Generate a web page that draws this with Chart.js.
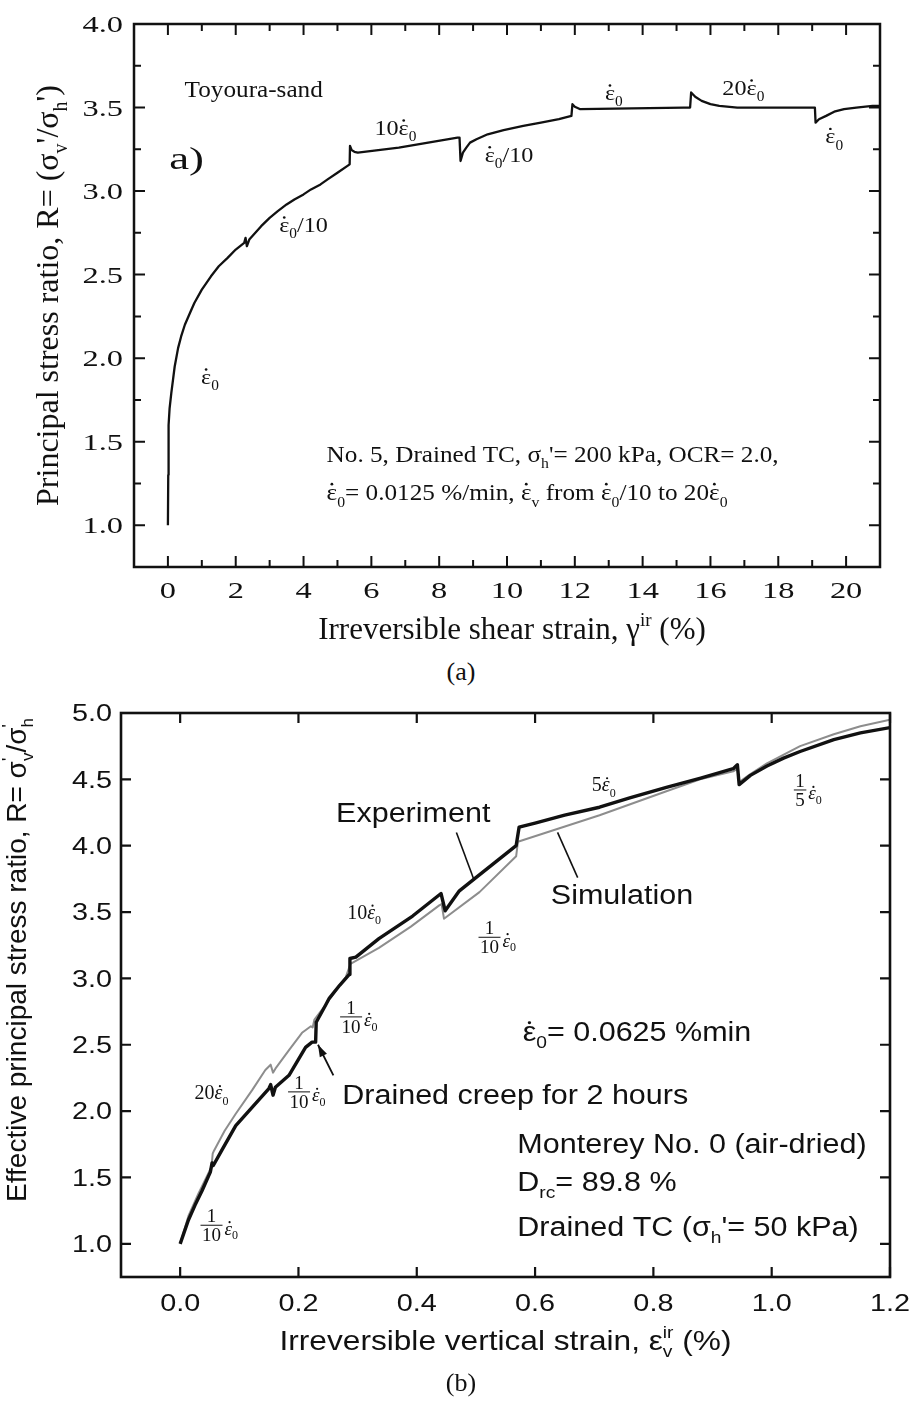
<!DOCTYPE html>
<html>
<head>
<meta charset="utf-8">
<script src="https://cdn.jsdelivr.net/npm/chart.js@4.4.0/dist/chart.umd.min.js"></script>
<style>
  body { margin: 0; background: #fff; }
  #page { position: relative; width: 912px; height: 1406px; }
  canvas { position: absolute; left: 0; }
  .cap { position: absolute; left: 0; width: 922px; text-align: center; font: 26px "Liberation Serif", serif; color: #111; line-height: 30px; }
</style>
</head>
<body>
<div id="page">
  <canvas id="chartA" width="912" height="650" style="top:0"></canvas>
  <div class="cap" style="top:657px">(a)</div>
  <canvas id="chartB" width="912" height="690" style="top:690px"></canvas>
  <div class="cap" style="top:1368px">(b)</div>
</div>
<script>
// (a) Toyoura sand, drained TC with step changes of strain rate
const strainA = [0, 0.01, 0.02, 0.05, 0.1, 0.15, 0.2, 0.3, 0.39, 0.5, 0.65, 0.78, 1.0, 1.27, 1.5,
  1.76, 2.0, 2.25, 2.29, 2.33, 2.4, 2.75, 3.0, 3.24, 3.5, 3.73, 4.0, 4.22, 4.5, 4.71,
  5.0, 5.36, 5.37, 5.42, 5.5, 5.6, 6.81, 8.54, 8.6, 8.63, 8.7, 8.8, 8.91, 9.1, 9.43,
  9.9, 10.48, 11.0, 11.53, 11.9, 11.93, 12.0, 12.16, 15.21, 15.4, 15.43, 15.55, 15.74, 16.0, 16.26,
  16.79, 19.04, 19.08, 19.1, 19.2, 19.41, 19.65, 19.94, 20.3, 20.78, 21];
const ratioA = [1.0, 1.3, 1.6, 1.70, 1.79, 1.87, 1.95, 2.06, 2.13, 2.20, 2.27, 2.33, 2.41, 2.49, 2.55,
  2.60, 2.65, 2.69, 2.72, 2.67, 2.71, 2.79, 2.84, 2.88, 2.92, 2.95, 2.98, 3.01, 3.04, 3.07,
  3.11, 3.16, 3.27, 3.245, 3.235, 3.23, 3.26, 3.32, 3.32, 3.18, 3.23, 3.26, 3.29, 3.31, 3.34,
  3.365, 3.39, 3.41, 3.43, 3.45, 3.52, 3.505, 3.49, 3.50, 3.50, 3.59, 3.565, 3.54, 3.52, 3.51,
  3.50, 3.50, 3.50, 3.41, 3.43, 3.45, 3.475, 3.49, 3.50, 3.51, 3.51];

// (b) Monterey No. 0 sand, experiment vs simulation
const strainExp = [0, 0.007, 0.014, 0.025, 0.037, 0.051, 0.054, 0.056, 0.071, 0.094, 0.122, 0.150, 0.153, 0.157, 0.161,
  0.184, 0.2, 0.212, 0.223, 0.229, 0.230, 0.246, 0.252, 0.27, 0.286, 0.287, 0.297, 0.336, 0.393, 0.441,
  0.448, 0.472, 0.500, 0.534, 0.568, 0.573, 0.60, 0.65, 0.709, 0.76, 0.822, 0.88, 0.935, 0.942, 0.945,
  0.964, 0.992, 1.02, 1.048, 1.105, 1.15, 1.2];
const ratioExp = [1.0, 1.09, 1.18, 1.29, 1.40, 1.54, 1.61, 1.59, 1.71, 1.89, 2.03, 2.17, 2.20, 2.12, 2.18,
  2.27, 2.39, 2.48, 2.52, 2.52, 2.67, 2.80, 2.85, 2.95, 3.03, 3.15, 3.16, 3.30, 3.47, 3.64,
  3.51, 3.66, 3.76, 3.88, 4.00, 4.14, 4.17, 4.23, 4.29, 4.36, 4.44, 4.51, 4.58, 4.61, 4.46,
  4.53, 4.60, 4.66, 4.71, 4.80, 4.85, 4.89];
const strainSim = [0, 0.014, 0.031, 0.053, 0.055, 0.057, 0.075, 0.094, 0.122, 0.144, 0.153, 0.157, 0.161, 0.184, 0.206,
  0.221, 0.224, 0.227, 0.246, 0.252, 0.280, 0.288, 0.336, 0.39, 0.438, 0.442, 0.446, 0.506, 0.568, 0.571,
  0.64, 0.709, 0.822, 0.879, 0.935, 0.942, 0.945, 0.964, 0.992, 1.048, 1.105, 1.15, 1.2];
const ratioSim = [1.0, 1.21, 1.38, 1.58, 1.68, 1.70, 1.85, 1.98, 2.16, 2.31, 2.35, 2.29, 2.32, 2.46, 2.59,
  2.64, 2.63, 2.69, 2.80, 2.84, 3.01, 3.11, 3.23, 3.39, 3.55, 3.56, 3.45, 3.65, 3.92, 4.03,
  4.13, 4.23, 4.41, 4.50, 4.56, 4.58, 4.48, 4.54, 4.62, 4.75, 4.84, 4.90, 4.95];

// ticks
const xTicksA = [0, 2, 4, 6, 8, 10, 12, 14, 16, 18, 20];
const xLabelsA = ['0', '2', '4', '6', '8', '10', '12', '14', '16', '18', '20'];
const xMinorA = [1, 3, 5, 7, 9, 11, 13, 15, 17, 19];
const yTicksA = [1.0, 1.5, 2.0, 2.5, 3.0, 3.5, 4.0];
const yLabelsA = ['1.0', '1.5', '2.0', '2.5', '3.0', '3.5', '4.0'];
const yMinorA = [1.25, 1.75, 2.25, 2.75, 3.25, 3.75];

const xTicksB = [0, 0.2, 0.4, 0.6, 0.8, 1.0, 1.2];
const xLabelsB = ['0.0', '0.2', '0.4', '0.6', '0.8', '1.0', '1.2'];
const yTicksB = [1.0, 1.5, 2.0, 2.5, 3.0, 3.5, 4.0, 4.5, 5.0];
const yLabelsB = ['1.0', '1.5', '2.0', '2.5', '3.0', '3.5', '4.0', '4.5', '5.0'];

const DOT = '\u0307';
const EPS = 'ε' + DOT;   // epsilon with dot (strain rate)
const SERIF = '"Liberation Serif"';
const SANS = '"Liberation Sans"';
const INK = '#111';

// "_{..}" subscript, "^{..}" superscript, "~{..}" italic
function parseRich(str) {
  const segs = [];
  let buf = '';
  for (let i = 0; i < str.length; i++) {
    const c = str[i];
    if ((c === '_' || c === '^' || c === '~') && str[i + 1] === '{') {
      if (buf) segs.push({ t: buf, k: '' });
      buf = '';
      const end = str.indexOf('}', i);
      segs.push({ t: str.slice(i + 2, end), k: c });
      i = end;
    } else {
      buf += c;
    }
  }
  if (buf) segs.push({ t: buf, k: '' });
  return segs;
}

function richText(ctx, str, x, y, o) {
  const size = o.size;
  const sx = o.sx || 1;
  const segs = parseRich(str);
  const small = s => s.k === '_' || s.k === '^';
  const italic = s => s.k === '~' || o.italic;
  const fontFor = s => (italic(s) ? 'italic ' : '') +
    Math.round(small(s) ? size * 0.62 : size) + 'px ' + o.family;
  let w = 0, prev = null;
  segs.forEach(s => {
    // the combining dot is drawn by hand above its letter
    s.plain = s.t.split(DOT).join('');
    ctx.font = fontFor(s);
    s.w = ctx.measureText(s.plain).width;
    if (prev && small(prev) && small(s) && prev.k !== s.k) {
      s.x = prev.x;
      w = prev.x + Math.max(prev.w, s.w);
    } else {
      s.x = w;
      w += s.w;
    }
    prev = s;
  });
  ctx.save();
  ctx.translate(x, y);
  if (o.rot) ctx.rotate(o.rot);
  ctx.scale(sx, 1);
  const x0 = o.align === 'left' ? 0 : o.align === 'right' ? -w : -w / 2;
  const base = size * 0.34;
  ctx.fillStyle = INK;
  ctx.textAlign = 'left';
  ctx.textBaseline = 'alphabetic';
  segs.forEach(s => {
    ctx.font = fontFor(s);
    const dy = s.k === '_' ? size * (o.sub || 0.28) : s.k === '^' ? -size * 0.42 : 0;
    ctx.fillText(s.plain, x0 + s.x, base + dy);
    let n = 0;
    for (let i = 0; i < s.t.length; i++) {
      if (s.t[i] !== DOT) continue;
      const before = s.t.slice(0, i).split(DOT).join('');
      const ch = before[before.length - 1];
      const cx = x0 + s.x + ctx.measureText(before).width - ctx.measureText(ch).width / 2 +
        (italic(s) ? size * 0.07 : 0);
      ctx.beginPath();
      ctx.arc(cx, base + dy - size * 0.66, Math.max(1.1, size * 0.055), 0, Math.PI * 2);
      ctx.fill();
      n++;
    }
  });
  ctx.restore();
  return w * sx;
}

// stacked fraction followed by the rate symbol, e.g. 1/10 ε0
function fracRate(ctx, num, den, cx, yBar, size) {
  ctx.save();
  ctx.font = size + 'px ' + SERIF;
  ctx.fillStyle = INK;
  ctx.textAlign = 'center';
  ctx.textBaseline = 'alphabetic';
  const w = Math.max(ctx.measureText(num).width, ctx.measureText(den).width) + 3;
  ctx.fillText(num, cx, yBar - 3);
  ctx.fillText(den, cx, yBar + 3 + size * 0.68);
  ctx.strokeStyle = INK;
  ctx.lineWidth = 1;
  ctx.beginPath();
  ctx.moveTo(cx - w / 2, yBar);
  ctx.lineTo(cx + w / 2, yBar);
  ctx.stroke();
  ctx.restore();
  richText(ctx, '~{' + EPS + '}_{0}', cx + w / 2 + 2, yBar + 3, { size, family: SERIF, align: 'left', sub: 0.22 });
}

function line(ctx, p, q, lw) {
  ctx.save();
  ctx.strokeStyle = INK;
  ctx.lineWidth = lw;
  ctx.beginPath();
  ctx.moveTo(p[0], p[1]);
  ctx.lineTo(q[0], q[1]);
  ctx.stroke();
  ctx.restore();
}

// frame, inward ticks on all four sides, tick labels, titles and notes
function axesPlugin(cfg) {
  return {
    id: 'axesPlugin',
    afterDatasetsDraw(chart) {
      const { ctx, chartArea: a, scales: { x, y } } = chart;
      const P = (xv, yv) => [x.getPixelForValue(xv), y.getPixelForValue(yv)];
      ctx.save();
      ctx.strokeStyle = INK;
      ctx.lineWidth = cfg.tickWidth;
      ctx.beginPath();
      const xt = (vals, len) => vals.forEach(v => {
        const px = x.getPixelForValue(v);
        ctx.moveTo(px, a.bottom); ctx.lineTo(px, a.bottom - len);
        ctx.moveTo(px, a.top); ctx.lineTo(px, a.top + len);
      });
      const yt = (vals, len) => vals.forEach(v => {
        const py = y.getPixelForValue(v);
        ctx.moveTo(a.left, py); ctx.lineTo(a.left + len, py);
        ctx.moveTo(a.right, py); ctx.lineTo(a.right - len, py);
      });
      xt(cfg.xMajor, cfg.majorLen);
      xt(cfg.xMinor || [], cfg.minorLen);
      yt(cfg.yMajor, cfg.majorLen);
      yt(cfg.yMinor || [], cfg.minorLen);
      ctx.stroke();
      ctx.lineWidth = cfg.frameWidth;
      ctx.strokeRect(a.left, a.top, a.right - a.left, a.bottom - a.top);
      ctx.restore();

      const tf = cfg.tickFont;
      cfg.xMajor.forEach((v, i) => richText(ctx, cfg.xLabels[i], x.getPixelForValue(v), a.bottom + cfg.xLabelGap,
        { size: tf.size, family: tf.family, sx: tf.sx }));
      cfg.yMajor.forEach((v, i) => richText(ctx, cfg.yLabels[i], a.left - cfg.yLabelGap, y.getPixelForValue(v),
        { size: tf.size, family: tf.family, sx: tf.sx, align: 'right' }));

      cfg.annotate(ctx, a, P);
    }
  };
}

function makeChart(id, datasets, o) {
  return new Chart(document.getElementById(id), {
    type: 'scatter',
    data: { datasets },
    options: {
      responsive: false,
      animation: false,
      layout: { padding: o.padding },
      plugins: { legend: { display: false }, tooltip: { enabled: false } },
      scales: {
        x: {
          type: 'linear', min: o.xMin, max: o.xMax,
          grid: { display: false }, border: { display: false }, ticks: { display: false },
          afterFit(s) { s.height = o.xHeight; }
        },
        y: {
          type: 'linear', min: o.yMin, max: o.yMax,
          grid: { display: false }, border: { display: false }, ticks: { display: false },
          afterFit(s) { s.width = o.yWidth; }
        }
      }
    },
    plugins: [axesPlugin(o.axes)]
  });
}

const toPoints = (xs, ys) => xs.map((v, i) => ({ x: v, y: ys[i] }));

// ---------- (a) ----------
makeChart('chartA', [{
  data: toPoints(strainA, ratioA),
  showLine: true, borderColor: INK, borderWidth: 2.3, pointRadius: 0, tension: 0, borderJoinStyle: 'round'
}], {
  padding: { left: 0, top: 24, right: 32, bottom: 0 },
  xMin: -1, xMax: 21, yMin: 0.75, yMax: 4.0,
  xHeight: 83, yWidth: 134,
  axes: {
    xMajor: xTicksA, xMinor: xMinorA, xLabels: xLabelsA,
    yMajor: yTicksA, yMinor: yMinorA, yLabels: yLabelsA,
    majorLen: 11, minorLen: 7, tickWidth: 2, frameWidth: 2.5,
    xLabelGap: 23, yLabelGap: 11,
    tickFont: { size: 24, family: SERIF, sx: 1.35 },
    annotate(ctx, a, P) {
      const f = { size: 22, family: SERIF, sx: 1.1 };
      const at = (s, xv, yv, o) => { const p = P(xv, yv); richText(ctx, s, p[0], p[1], Object.assign({}, f, o)); };
      const rate = EPS + '_{0}';
      at('Toyoura-sand', 2.53, 3.61, { size: 24, sx: 1.05 });
      at('a)', 0.55, 3.20, { size: 32, sx: 1.4 });
      at('10' + rate, 6.71, 3.38);
      at(rate + '/10', 10.06, 3.22);
      at(rate, 13.15, 3.59);
      at('20' + rate, 16.97, 3.62);
      at(rate, 19.65, 3.33);
      at(rate + '/10', 4.0, 2.80);
      at(rate, 1.24, 1.89);
      at("No. 5, Drained TC, σ_{h}'= 200 kPa, OCR= 2.0,", 4.68, 1.43, { size: 24, sx: 1.05, align: 'left' });
      at(rate + '= 0.0125 %/min, ' + EPS + '_{v} from ' + rate + '/10 to 20' + rate, 4.68, 1.20,
        { size: 24, sx: 1.05, align: 'left' });
      richText(ctx, 'Irreversible shear strain, γ^{ir} (%)', (a.left + a.right) / 2 + 5, a.bottom + 61,
        { size: 31, family: SERIF });
      richText(ctx, "Principal stress ratio, R= (σ_{v}'/σ_{h}')", 47, (a.top + a.bottom) / 2,
        { size: 32, family: SERIF, rot: -Math.PI / 2 });
    }
  }
});

// ---------- (b) ----------
makeChart('chartB', [{
  label: 'Experiment',
  data: toPoints(strainExp, ratioExp),
  showLine: true, borderColor: INK, borderWidth: 3.4, pointRadius: 0, tension: 0, borderJoinStyle: 'round', order: 0
}, {
  label: 'Simulation',
  data: toPoints(strainSim, ratioSim),
  showLine: true, borderColor: '#8d8d8d', borderWidth: 2, pointRadius: 0, tension: 0, borderJoinStyle: 'round', order: 1
}], {
  padding: { left: 0, top: 23, right: 22, bottom: 0 },
  xMin: -0.1, xMax: 1.2, yMin: 0.75, yMax: 5.0,
  xHeight: 103, yWidth: 121,
  axes: {
    xMajor: xTicksB, xLabels: xLabelsB,
    yMajor: yTicksB, yLabels: yLabelsB,
    majorLen: 10, minorLen: 0, tickWidth: 2.2, frameWidth: 2.6,
    xLabelGap: 26, yLabelGap: 9,
    tickFont: { size: 24, family: SANS, sx: 1.2 },
    annotate(ctx, a, P) {
      const sans = { size: 27, family: SANS, sx: 1.13 };
      const serif = { size: 20, family: SERIF };
      const at = (s, xv, yv, base, o) => { const p = P(xv, yv); richText(ctx, s, p[0], p[1], Object.assign({}, base, o)); };
      const rate = '~{' + EPS + '}_{0}';
      const frac = (num, den, xv, yv) => { const p = P(xv, yv); fracRate(ctx, num, den, p[0], p[1], 19); };

      at('Experiment', 0.394, 4.25, sans);
      line(ctx, P(0.467, 4.10), P(0.497, 3.74), 1.6);
      at('Simulation', 0.747, 3.63, sans);
      line(ctx, P(0.638, 4.10), P(0.672, 3.76), 1.6);

      at('5' + rate, 0.716, 4.46, serif);
      frac('1', '5', 1.048, 4.42);
      at('10' + rate, 0.311, 3.50, serif);
      frac('1', '10', 0.523, 3.31);
      frac('1', '10', 0.289, 2.71);
      frac('1', '10', 0.201, 2.145);
      at('20' + rate, 0.053, 2.14, serif);
      frac('1', '10', 0.053, 1.14);

      at(EPS + '_{0}= 0.0625 %min', 0.579, 2.60, sans, { align: 'left' });
      at('Drained creep for 2 hours', 0.274, 2.12, sans, { align: 'left' });
      // arrow to the creep stage
      const tail = P(0.259, 2.27), tip = P(0.233, 2.50);
      line(ctx, tail, tip, 1.8);
      const ang = Math.atan2(tip[1] - tail[1], tip[0] - tail[0]);
      ctx.save();
      ctx.fillStyle = INK;
      ctx.translate(tip[0], tip[1]);
      ctx.rotate(ang);
      ctx.beginPath();
      ctx.moveTo(0, 0);
      ctx.lineTo(-12, -4);
      ctx.lineTo(-12, 4);
      ctx.closePath();
      ctx.fill();
      ctx.restore();

      at('Monterey No. 0 (air-dried)', 0.570, 1.75, sans, { align: 'left' });
      at('D_{rc}= 89.8 %', 0.570, 1.47, sans, { align: 'left' });
      at("Drained TC (σ_{h}'= 50 kPa)", 0.570, 1.13, sans, { align: 'left' });

      richText(ctx, 'Irreversible vertical strain, ε^{ir}_{v} (%)', (a.left + a.right) / 2, a.bottom + 63,
        { size: 28, family: SANS, sx: 1.13 });
      richText(ctx, "Effective principal stress ratio, R= σ^{'}_{v}/σ^{'}_{h}", 16, 270,
        { size: 28, family: SANS, rot: -Math.PI / 2 });
    }
  }
});
</script>
</body>
</html>
